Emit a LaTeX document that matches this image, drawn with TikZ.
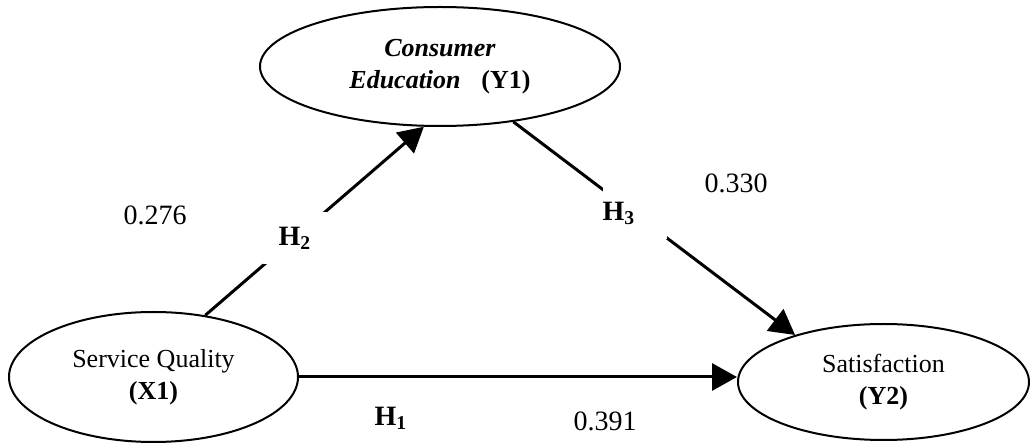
\documentclass[tikz,border=0pt]{standalone}
\usepackage{fontspec}
\setmainfont{Liberation Serif}
\usetikzlibrary{shapes.geometric,arrows.meta}
\tikzset{
  latent/.style={ellipse, draw, line width=1pt, inner sep=0pt, align=center, font=\fontsize{13}{16}\selectfont},
  effect/.style={line width=1.5pt, -{Triangle[length=12.5pt,width=13.5pt]}},
  hyp/.style={font=\fontsize{14}{16}\selectfont\bfseries},
  gap/.style={hyp, fill=white, inner sep=0pt, minimum width=32pt, minimum height=26pt},
  coef/.style={font=\fontsize{14}{16}\selectfont}
}
\newcommand{\hname}[1]{H\textsubscript{#1}}
\begin{document}
\begin{tikzpicture}[x=0.5pt,y=-0.5pt]
\useasboundingbox (0,0) rectangle (1030,443);
\node[latent, minimum width=144.5pt, minimum height=65pt] (sq) at (153.5,377) {Service Quality\\ \textbf{(X1)}};
\node[latent, minimum width=180pt, minimum height=59.5pt] (ce) at (440,66.5) {\textbf{\textit{Consumer}}\\ \textbf{\textit{Education}}\hspace{0.8em}\textbf{(Y1)}};
\node[latent, minimum width=145.5pt, minimum height=58pt] (sat) at (883.5,382) {Satisfaction\\ \textbf{(Y2)}};

\draw[effect] (sq.east) -- (sq.east -| sat.west) node[hyp, pos=.21, yshift=-20.5pt] (h1) {\hname{1}};
\draw[effect] (sq.50) -- (ce.255) node[gap, pos=.41] (h2) {\hname{2}};
\draw[effect] (ce.323) -- (sat.152) node[gap, pos=.43, text width=32pt, align=left] (h3) {\hname{3}};

\node[coef] (b2) at (155,215) {0.276};
\node[coef] (b3) at (736,183) {0.330};
\node[coef] (b1) at (605,421) {0.391};
\end{tikzpicture}
\end{document}
